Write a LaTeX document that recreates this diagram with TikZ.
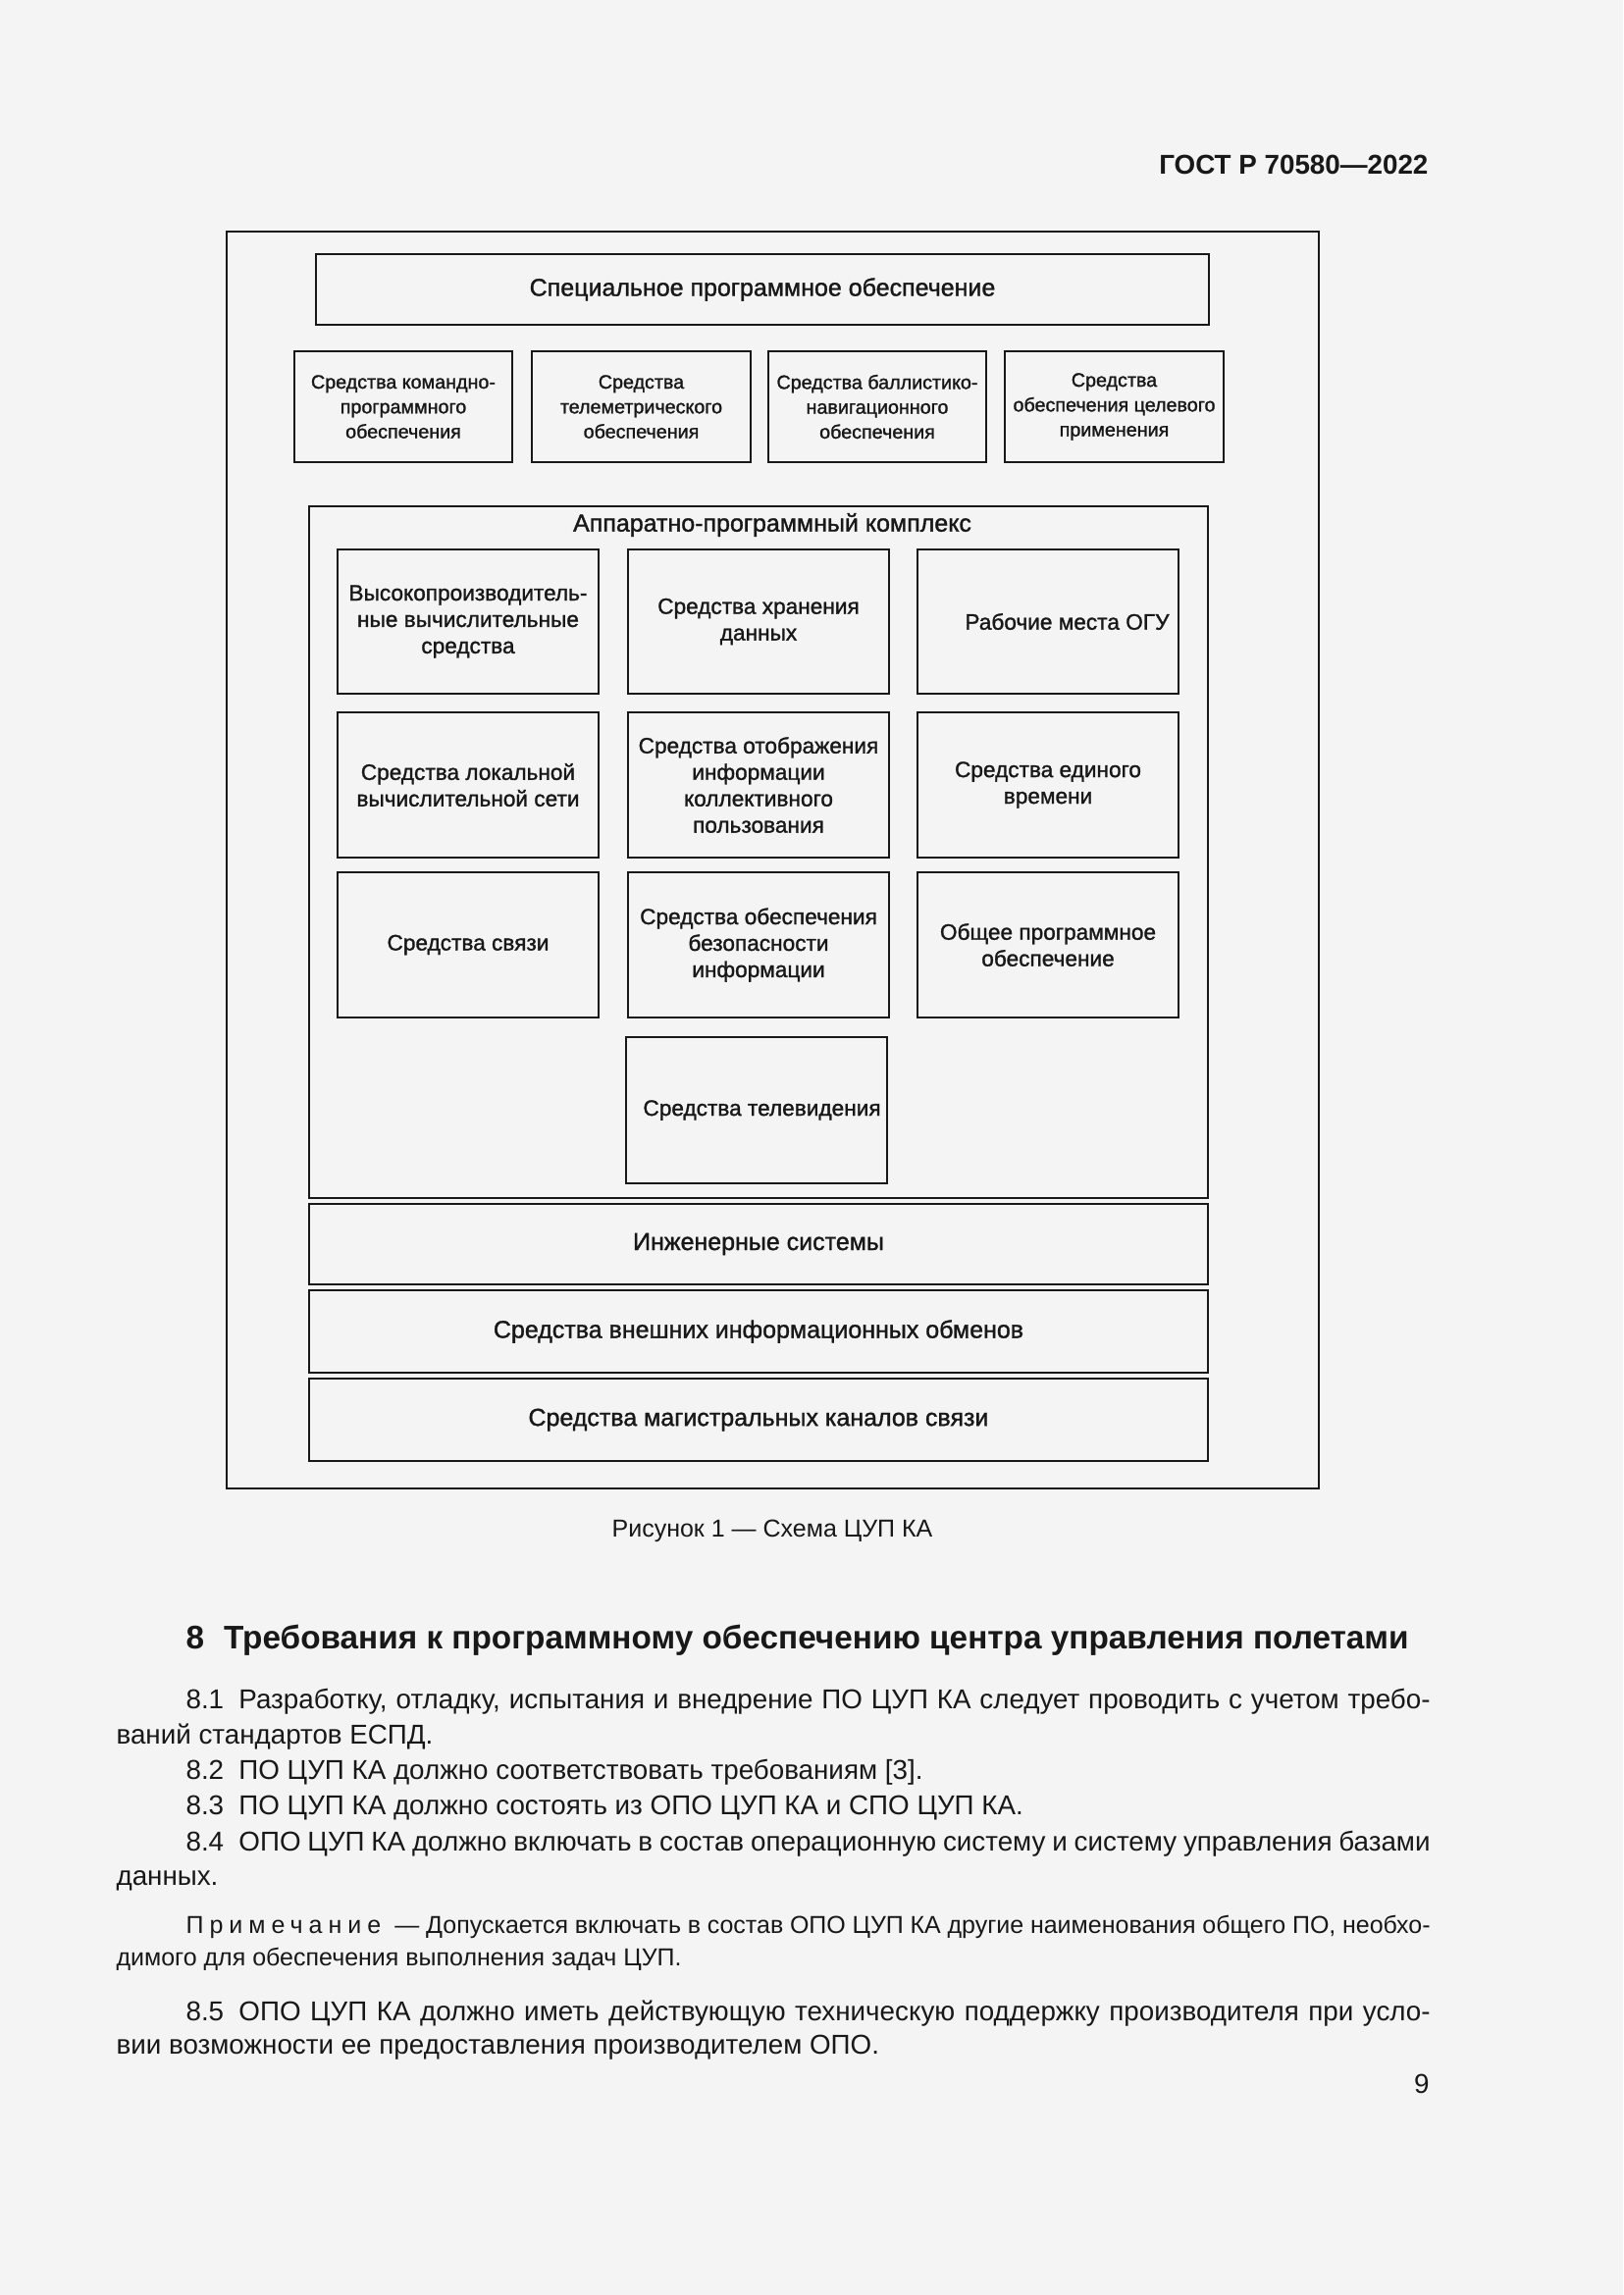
\documentclass[tikz,border=0pt]{standalone}
\usepackage{fontspec}
\setmainfont{Liberation Sans}
\newfontfamily\diagfont[FakeBold=1.3]{Liberation Sans}
\definecolor{bg}{RGB}{244,244,244}
\definecolor{ink}{RGB}{24,24,24}
\newcommand{\pbox}[7]{%
  \node[frame,#6,minimum width={(#4-#2)*0.36pt},minimum height={(#5-#3)*0.36pt}]
    (#1) at ({(#2+#4)/2},{(#3+#5)/2}) {#7};}
\tikzset{
  frame/.style={draw=ink,line width=1.0pt,inner sep=0pt,align=center,text=ink},
  smallf/.style={font=\diagfont\fontsize{7.1}{9.1}\selectfont},
  innerf/.style={font=\diagfont\fontsize{8.15}{9.7}\selectfont},
  bigf/.style={font=\diagfont\fontsize{9.0}{11}\selectfont},
  line/.style={anchor=base west,inner sep=0pt,text=ink,font=\fontsize{10}{12}\selectfont},
  noteline/.style={anchor=base west,inner sep=0pt,text=ink,font=\fontsize{9}{11}\selectfont},
}
\begin{document}
\begin{tikzpicture}[x=0.36pt,y=-0.36pt]
\fill[bg] (0,0) rectangle (1654,2339);
\useasboundingbox (0,0) rectangle (1654,2339);

% header
\node[anchor=base east,inner sep=0pt,text=ink,font=\bfseries\fontsize{10}{12}\selectfont] (hdr) at (1456,177) {ГОСТ Р 70580—2022};

% outer frame
\node[draw=ink,line width=1.0pt,inner sep=0pt,minimum width={(1344-231)*0.36pt},minimum height={(1517-236)*0.36pt}] (outer) at ({(231+1344)/2},{(236+1517)/2}) {};

\pbox{spo}{322}{259}{1232}{331}{bigf}{Специальное программное обеспечение}
\pbox{s1}{300}{358}{522}{471}{smallf}{Средства командно-\\программного\\обеспечения}
\pbox{s2}{542}{358}{765}{471}{smallf}{Средства\\телеметрического\\обеспечения}
\pbox{s3}{783}{358}{1005}{471}{smallf}{Средства баллистико-\\навигационного\\обеспечения}
\pbox{s4}{1024}{358}{1247}{471}{smallf}{Средства\\обеспечения целевого\\применения}

\pbox{apk}{315}{516}{1231}{1221}{bigf}{}
\node[inner sep=0pt,text=ink,font=\diagfont\fontsize{9.0}{11}\selectfont] (apkt) at (787,535) {Аппаратно-программный комплекс};

\pbox{a1}{344}{560}{610}{707}{innerf}{Высокопроизводитель-\\ные вычислительные\\средства}
\pbox{a2}{640}{560}{906}{707}{innerf}{Средства хранения\\данных}
\pbox{a3}{935}{560}{1201}{707}{innerf}{\hspace*{14pt}Рабочие места ОГУ}
\pbox{a4}{344}{726}{610}{874}{innerf}{Средства локальной\\вычислительной сети}
\pbox{a5}{640}{726}{906}{874}{innerf}{Средства отображения\\информации\\коллективного\\пользования}
\pbox{a6}{935}{726}{1201}{874}{innerf}{Средства единого\\времени}
\pbox{a7}{344}{889}{610}{1037}{innerf}{Средства связи}
\pbox{a8}{640}{889}{906}{1037}{innerf}{Средства обеспечения\\безопасности\\информации}
\pbox{a9}{935}{889}{1201}{1037}{innerf}{Общее программное\\обеспечение}
\pbox{a10}{638}{1057}{904}{1206}{innerf}{\hspace*{4pt}Средства телевидения}

\pbox{b1}{315}{1227}{1231}{1309}{bigf}{Инженерные системы}
\pbox{b2}{315}{1315}{1231}{1399}{bigf}{Средства внешних информационных обменов}
\pbox{b3}{315}{1405}{1231}{1489}{bigf}{Средства магистральных каналов связи}

% caption
\node[anchor=base,inner sep=0pt,text=ink,font=\fontsize{9.0}{11}\selectfont] (cap) at (787,1566) {Рисунок 1 — Схема ЦУП КА};

% heading
\node[anchor=base west,inner sep=0pt,text=ink,font=\bfseries\fontsize{12}{14}\selectfont] (h8) at (189,1680) {8\hspace{0.6em}Требования к программному обеспечению центра управления полетами};

% body
\node[line] (p1a) at (189,1741) {\makebox[456.5pt][s]{8.1\hspace{0.55em}Разработку, отладку, испытания и внедрение ПО ЦУП КА следует проводить с учетом требо-}};
\node[line] (p1b) at (118,1777) {ваний стандартов ЕСПД.};
\node[line] (p2) at (189,1813) {8.2\hspace{0.55em}ПО ЦУП КА должно соответствовать требованиям [3].};
\node[line] (p3) at (189,1849) {8.3\hspace{0.55em}ПО ЦУП КА должно состоять из ОПО ЦУП КА и СПО ЦУП КА.};
\node[line] (p4a) at (189,1886) {\makebox[456.5pt][s]{8.4\hspace{0.55em}ОПО ЦУП КА должно включать в состав операционную систему и систему управления базами}};
\node[line] (p4b) at (118,1921) {данных.};

\node[noteline] (n1) at (189,1970) {\makebox[456.5pt][s]{{\addfontfeature{LetterSpace=24}Примечание}\hspace{0.3em} — Допускается включать в состав ОПО ЦУП КА другие наименования общего ПО, необхо-}};
\node[noteline] (n2) at (118,2003) {димого для обеспечения выполнения задач ЦУП.};

\node[line] (p5a) at (189,2059) {\makebox[456.5pt][s]{8.5\hspace{0.55em}ОПО ЦУП КА должно иметь действующую техническую поддержку производителя при усло-}};
\node[line] (p5b) at (118,2093) {вии возможности ее предоставления производителем ОПО.};

\node[anchor=base east,inner sep=0pt,text=ink,font=\fontsize{10}{12}\selectfont] (pg) at (1457,2133) {9};
\end{tikzpicture}
\end{document}
